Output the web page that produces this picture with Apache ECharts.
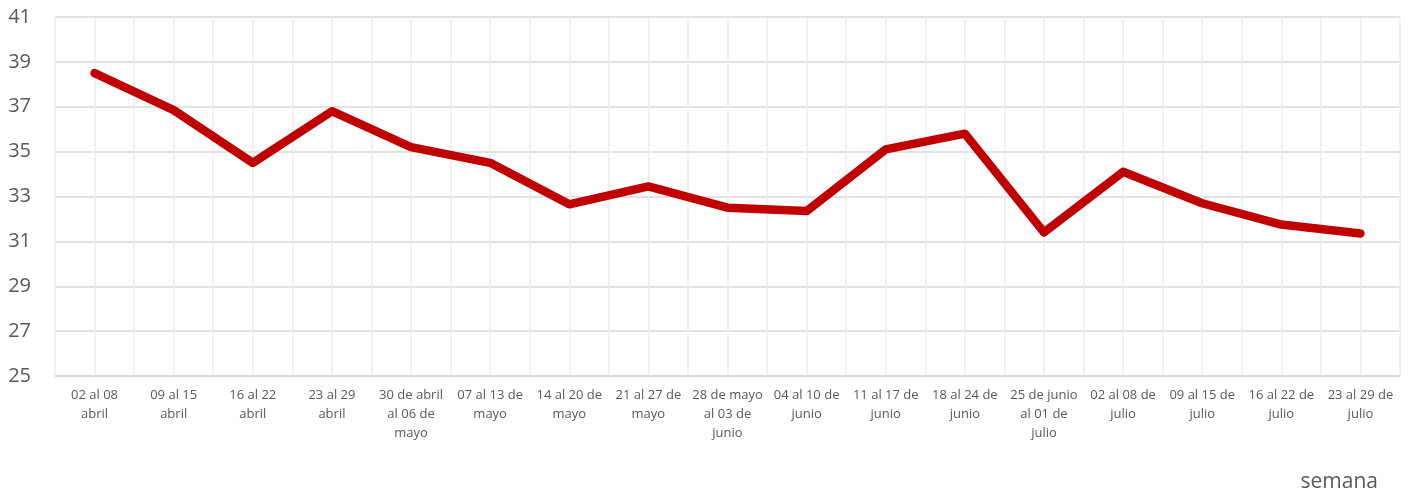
<!DOCTYPE html>
<html><head><meta charset="utf-8">
<script src="https://cdn.jsdelivr.net/npm/echarts@6/dist/echarts.min.js"></script>
<style>html,body{margin:0;padding:0;background:#fff}#c{width:1414px;height:497px}</style>
</head><body><div id="c"></div>
<script>
const categories = [
 "02 al 08\nabril","09 al 15\nabril","16 al 22\nabril","23 al 29\nabril",
 "30 de abril\nal 06 de\nmayo","07 al 13 de\nmayo","14 al 20 de\nmayo","21 al 27 de\nmayo",
 "28 de mayo\nal 03 de\njunio","04 al 10 de\njunio","11 al 17 de\njunio","18 al 24 de\njunio",
 "25 de junio\nal 01 de\njulio","02 al 08 de\njulio","09 al 15 de\njulio","16 al 22 de\njulio",
 "23 al 29 de\njulio"
];
const values = [38.5,36.85,34.5,36.8,35.2,34.5,32.65,33.45,32.5,32.35,35.1,35.8,31.4,34.1,32.7,31.75,31.35];
const yMin = 25, yMax = 41, yStep = 2;
const xAxisName = "semana";

const chart = echarts.init(document.getElementById('c'));
chart.setOption({
  animation:false,
  grid:{left:55,right:14,top:17,bottom:121,containLabel:false},
  xAxis:[{
    type:'category',data:categories,boundaryGap:true,
    axisLine:{lineStyle:{color:'#d9d9d9',width:1.5}},
    axisTick:{show:false},
    splitLine:{show:false},
    axisLabel:{color:'#595959',fontSize:13,fontFamily:'Open Sans, sans-serif',lineHeight:19,margin:10,interval:0},
    name:xAxisName,nameLocation:'end',
    nameTextStyle:{color:'#595959',fontSize:21,fontFamily:'Open Sans, sans-serif',align:'right',verticalAlign:'top',padding:[96,22,0,0]},
    nameGap:0
  },{
    type:'value',min:-0.5,max:categories.length-0.5,interval:0.5,show:true,position:'bottom',
    axisLine:{show:false},axisTick:{show:false},axisLabel:{show:false},
    splitLine:{show:true,lineStyle:{color:'#ececec',width:1.5}}
  }],
  yAxis:{
    type:'value',min:yMin,max:yMax,interval:yStep,
    axisLine:{show:false},axisTick:{show:false},
    axisLabel:{color:'#595959',fontSize:20,fontFamily:'Open Sans, sans-serif',margin:24},
    splitLine:{lineStyle:{color:'#d9d9d9',width:1.5}}
  },
  series:[{
    type:'line',xAxisIndex:0,data:values,symbol:'none',
    lineStyle:{color:'#C00000',width:8.5,cap:'round',join:'round'},
    z:5
  }]
});
</script></body></html>
